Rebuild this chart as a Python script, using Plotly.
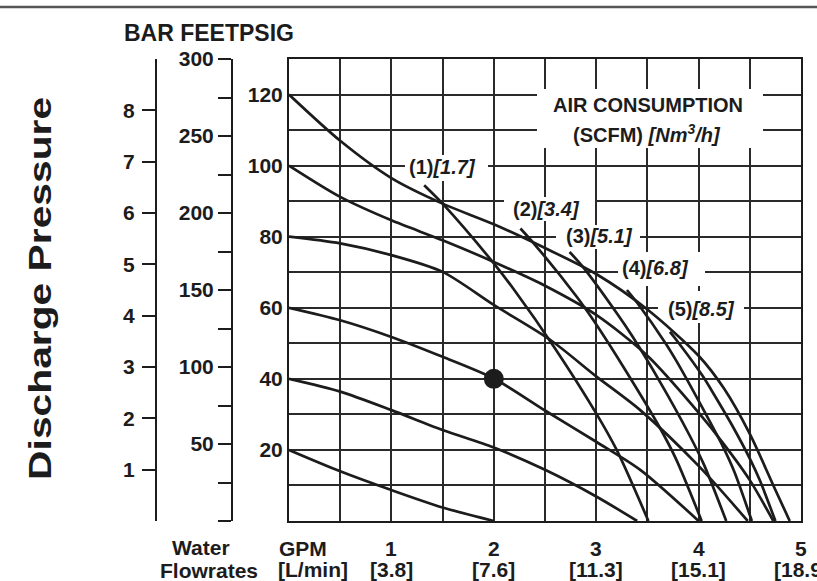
import plotly.graph_objects as go

# ---------------- data ----------------
gpm_ticks = [1, 2, 3, 4, 5]
gpm_tick_text = ["1", "2", "3", "4", "5"]
lmin_labels = ["[3.8]", "[7.6]", "[11.3]", "[15.1]", "[18.9]"]
feet_ticks = [20, 40, 60, 80, 100, 120]
psi_ticks = [50, 100, 150, 200, 250, 300]
bar_ticks = [1, 2, 3, 4, 5, 6, 7, 8]

# discharge-pressure curves (GPM, feet)
p120_gpm = [0, 0.5, 1.0, 1.5, 2.0, 2.5, 3.0, 3.5, 4.0, 4.25, 4.5, 4.73, 4.89]
p120_ft = [120, 107, 96.5, 89.3, 83.5, 76.8, 69.5, 59.5, 46.5, 37.2, 24.5, 10, 0]
p100_gpm = [0, 0.5, 1.0, 1.5, 2.0, 2.5, 3.0, 3.5, 4.0, 4.25, 4.5, 4.73]
p100_ft = [100, 91.2, 84.6, 79.0, 72.9, 66.2, 58.0, 46.5, 30.5, 21.5, 11.5, 0]
p80_gpm = [0, 0.5, 1.0, 1.5, 2.0, 2.55, 3.0, 3.43, 4.0, 4.48]
p80_ft = [80, 78.1, 74.8, 70.1, 60.8, 51.0, 40.7, 31.2, 15.5, 0]
p60_gpm = [0, 0.5, 1.0, 1.5, 2.0, 2.5, 3.0, 3.43, 4.0]
p60_ft = [60, 56.5, 51.8, 46.2, 40.1, 31.1, 22.3, 14.4, 0]
p40_gpm = [0, 0.5, 1.0, 1.5, 2.0, 2.5, 3.0, 3.4]
p40_ft = [40, 36.4, 31.2, 25.6, 20.7, 14.4, 6.9, 0]
p20_gpm = [0, 0.5, 1.0, 1.5, 2.0]
p20_ft = [20, 14, 8.7, 3.8, 0]

# air-consumption curves (GPM, feet)
air1_gpm = [1.32, 1.5, 2.0, 2.2, 2.6, 3.0, 3.2, 3.51]
air1_ft = [94.5, 89.3, 72.5, 65, 48.5, 30.3, 20, 0]
air2_gpm = [2.26, 2.40, 2.81, 2.97, 3.29, 3.62, 3.78, 4.03]
air2_ft = [82.3, 77.8, 63.1, 56.6, 42.2, 26.3, 17.4, 0]
air3_gpm = [2.74, 2.87, 3.21, 3.35, 3.63, 3.91, 4.05, 4.27]
air3_ft = [75.7, 71.5, 58.1, 52.1, 38.8, 24.2, 16.0, 0]
air4_gpm = [3.30, 3.40, 3.68, 3.79, 4.01, 4.24, 4.35, 4.52]
air4_ft = [65, 61.4, 49.9, 44.7, 33.3, 20.8, 13.8, 0]
air5_gpm = [3.72, 3.80, 4.04, 4.13, 4.32, 4.51, 4.60, 4.75]
air5_ft = [53.2, 50.3, 40.8, 36.6, 27.3, 17.0, 11.3, 0]

air_numbers = ["(1)", "(2)", "(3)", "(4)", "(5)"]
air_nm3h = ["[1.7]", "[3.4]", "[5.1]", "[6.8]", "[8.5]"]

point_gpm = [2.0]
point_ft = [40]

# ---------------- layout helpers ----------------
W, H = 817, 581
ML, MR, MT, MB = 100, 16, 59, 60
PW, PH = W - ML - MR, H - MT - MB
X0_PIX = 289  # left edge of the chart frame


def px(x):
    return (x - ML) / PW


def py(y):
    return (H - MB - y) / PH


def dx(x):  # pixel -> GPM
    return (x - X0_PIX) / ((W - MR - X0_PIX) / 5.0)


def dy(y):  # pixel -> feet
    return (H - MB - y) / (PH / 130.0)


INK = "#1c1c1c"
GRID = "#2a2a2a"
FONT = "Liberation Sans, Arial, Helvetica, sans-serif"

fig = go.Figure()

# white boxes that break the grid behind the labels (drawn under the curves)
boxes = [(537, 89, 763, 148), (405, 155, 488, 181), (504, 197, 595, 221),
         (556, 225, 640, 249), (618, 252, 705, 286), (658, 291, 744, 323)]
bx, by = [], []
for x0, y0, x1, y1 in boxes:
    bx += [dx(x0), dx(x1), dx(x1), dx(x0), dx(x0), None]
    by += [dy(y0), dy(y0), dy(y1), dy(y1), dy(y0), None]
fig.add_trace(go.Scatter(x=bx, y=by, mode="lines", fill="toself", fillcolor="white",
                         line=dict(width=0, color="white"), showlegend=False,
                         hoverinfo="skip"))

pressure = [(p120_gpm, p120_ft), (p100_gpm, p100_ft), (p80_gpm, p80_ft),
            (p60_gpm, p60_ft), (p40_gpm, p40_ft), (p20_gpm, p20_ft)]
air = [(air1_gpm, air1_ft), (air2_gpm, air2_ft), (air3_gpm, air3_ft),
       (air4_gpm, air4_ft), (air5_gpm, air5_ft)]

for gx, fy in pressure + air:
    fig.add_trace(go.Scatter(x=gx, y=fy, mode="lines",
                             line=dict(color=INK, width=2.7, shape="spline", smoothing=0.8),
                             showlegend=False, hoverinfo="skip"))

fig.add_trace(go.Scatter(x=point_gpm, y=point_ft, mode="markers",
                         marker=dict(color=INK, size=20), showlegend=False))

# dummy traces so the extra axes are drawn
fig.add_trace(go.Scatter(x=[None], y=[None], yaxis="y2", showlegend=False))
fig.add_trace(go.Scatter(x=[None], y=[None], yaxis="y3", showlegend=False))

tickfont = dict(family=FONT, size=21, color=INK, weight="bold")

fig.update_layout(
    width=W, height=H,
    margin=dict(l=ML, r=MR, t=MT, b=MB),
    paper_bgcolor="white", plot_bgcolor="white",
    xaxis=dict(domain=[px(X0_PIX), 1], range=[0, 5],
               tickvals=gpm_ticks, ticktext=[""] * len(gpm_ticks), ticks="",
               showgrid=True, gridcolor=GRID, gridwidth=1.6,
               minor=dict(dtick=0.5, tick0=0, showgrid=True, gridcolor=GRID, gridwidth=1.6),
               showline=True, linecolor=INK, linewidth=2, mirror=True,
               zeroline=False, fixedrange=True),
    yaxis=dict(range=[0, 130], tickvals=feet_ticks, ticks="",
               tickfont=tickfont, ticklabelstandoff=0,
               showgrid=True, gridcolor=GRID, gridwidth=1.6,
               minor=dict(dtick=10, tick0=0, showgrid=True, gridcolor=GRID, gridwidth=1.6),
               showline=True, linecolor=INK, linewidth=2, mirror=True,
               zeroline=False, fixedrange=True),
    yaxis2=dict(range=[0, 300], overlaying="y", anchor="free", position=px(232), side="left",
                tickvals=psi_ticks, ticks="outside", ticklen=13, tickwidth=2, tickcolor=INK,
                minor=dict(dtick=25, tick0=0, ticks="outside", ticklen=13, tickwidth=2, tickcolor=INK),
                tickfont=tickfont, ticklabelstandoff=0,
                showgrid=False, zeroline=False,
                showline=True, linecolor=INK, linewidth=2, fixedrange=True),
    yaxis3=dict(range=[0, 9], overlaying="y", anchor="free", position=px(156), side="left",
                tickvals=bar_ticks, ticks="outside", ticklen=13, tickwidth=2, tickcolor=INK,
                tickfont=tickfont, ticklabelstandoff=3,
                showgrid=False, zeroline=False,
                showline=True, linecolor=INK, linewidth=2, fixedrange=True),
)

# page rule at top
fig.add_shape(type="line", xref="paper", yref="paper",
              x0=px(0), x1=px(W), y0=py(7), y1=py(7),
              line=dict(color="#555555", width=2.5))


def text(x, y, s, size=21, xanchor="center"):
    fig.add_annotation(x=px(x), y=py(y), xref="paper", yref="paper", text=s,
                       showarrow=False, xanchor=xanchor, yanchor="middle",
                       font=dict(family=FONT, size=size, color=INK, weight="bold"))


# air-consumption labels
label_pos = [(442, 167), (546, 209), (599, 236), (655, 268), (701, 309)]
for (lx, ly), n, v in zip(label_pos, air_numbers, air_nm3h):
    text(lx, ly, f"{n}<i>{v}</i>", size=20)

text(648, 105, "AIR CONSUMPTION", size=20)
text(647, 133, "(SCFM) <i>[Nm<sup>3</sup>/h]</i>", size=20)

# axis headers
text(209, 33, "BAR FEETPSIG", size=23)

# bottom flow labels
for g, t1, t2 in zip(gpm_ticks, gpm_tick_text, lmin_labels):
    fig.add_annotation(x=g, y=py(548), xref="x", yref="paper", text=t1, showarrow=False,
                       yanchor="middle", font=dict(family=FONT, size=21, color=INK, weight="bold"))
    fig.add_annotation(x=g, y=py(569), xref="x", yref="paper", text=t2, showarrow=False,
                       yanchor="middle", font=dict(family=FONT, size=21, color=INK, weight="bold"))
text(277, 548, "GPM", xanchor="left")
text(276, 569, "[L/min]", xanchor="left")
text(201, 547, "Water")
text(209, 570, "Flowrates")

# vertical title
fig.add_annotation(x=px(40), y=py(289), xref="paper", yref="paper", text="Discharge Pressure",
                   showarrow=False, textangle=-90, xanchor="center", yanchor="middle",
                   font=dict(family=FONT, size=31, color=INK, weight="bold"))

post = """
document.body.style.margin = '0';
document.body.style.overflow = 'hidden';
document.querySelectorAll('g.annotation text').forEach(function (t) {
  if (t.textContent === 'Discharge Pressure') {
    t.setAttribute('textLength', '383');
    t.setAttribute('lengthAdjust', 'spacingAndGlyphs');
  }
});
"""

fig.write_html("out.html", post_script=post, config={"displayModeBar": False})
